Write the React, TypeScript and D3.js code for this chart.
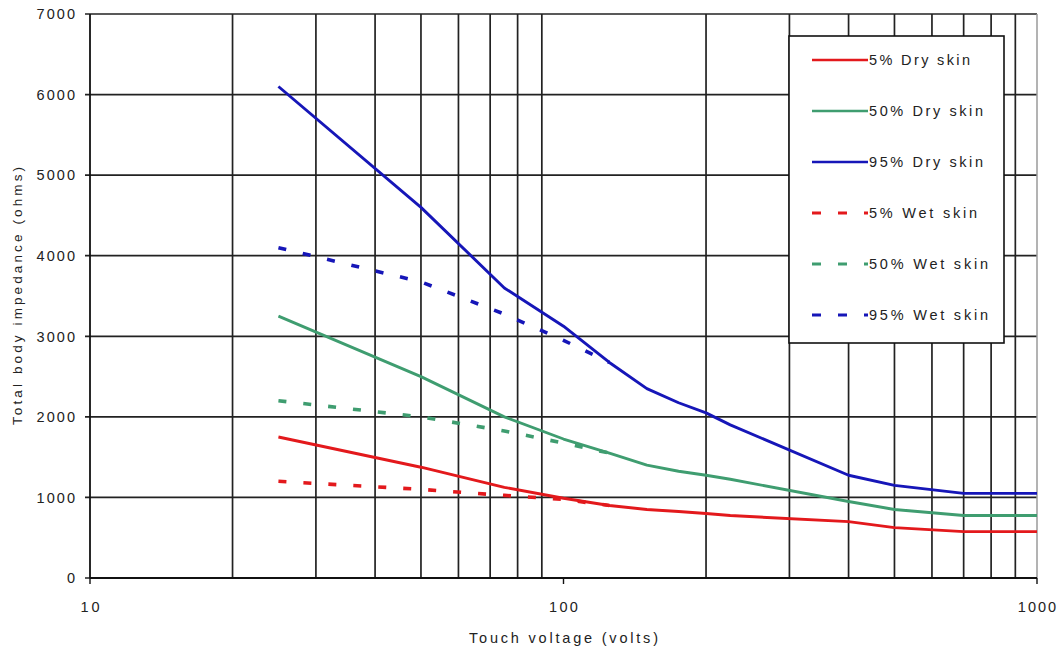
import React from "react";
import * as d3 from "d3";

// touch voltage (V) and total body impedance (ohms)
const voltages = [25, 50, 75, 100, 125, 150, 175, 200, 225, 400, 500, 700, 1000];
const dry5 = [1750, 1375, 1125, 990, 900, 850, 825, 800, 775, 700, 625, 575, 575];
const dry50 = [3250, 2500, 2000, 1725, 1550, 1400, 1325, 1275, 1225, 950, 850, 775, 775];
const dry95 = [6100, 4600, 3600, 3125, 2675, 2350, 2175, 2050, 1900, 1275, 1150, 1050, 1050];

const wetVoltages = [25, 50, 75, 100, 125];
const wet5 = [1200, 1100, 1025, 975, 900];
const wet50 = [2200, 2000, 1825, 1675, 1550];
const wet95 = [4100, 3675, 3275, 2950, 2675];

const seriesNames = [
  "5% Dry skin",
  "50% Dry skin",
  "95% Dry skin",
  "5% Wet skin",
  "50% Wet skin",
  "95% Wet skin",
];

const xTicks = [10, 100, 1000];
const yTicks = [0, 1000, 2000, 3000, 4000, 5000, 6000, 7000];

const RED = "#e3191c";
const GREEN = "#3f9d70";
const BLUE = "#1616b8";

const W = 1062;
const H = 653;
const margin = { top: 14, right: 25, bottom: 75, left: 90 };
const FONT = "'Liberation Sans', Arial, sans-serif";

export default function App() {
  const x = d3
    .scaleLog()
    .domain([10, 1000])
    .range([margin.left, W - margin.right]);
  const y = d3
    .scaleLinear()
    .domain([0, 7000])
    .range([H - margin.bottom, margin.top]);

  const series = [
    { name: seriesNames[0], xs: voltages, ys: dry5, color: RED, dashed: false },
    { name: seriesNames[1], xs: voltages, ys: dry50, color: GREEN, dashed: false },
    { name: seriesNames[2], xs: voltages, ys: dry95, color: BLUE, dashed: false },
    { name: seriesNames[3], xs: wetVoltages, ys: wet5, color: RED, dashed: true },
    { name: seriesNames[4], xs: wetVoltages, ys: wet50, color: GREEN, dashed: true },
    { name: seriesNames[5], xs: wetVoltages, ys: wet95, color: BLUE, dashed: true },
  ];

  const line = d3
    .line<[number, number]>()
    .x((d) => x(d[0]))
    .y((d) => y(d[1]));

  // vertical grid: 20..90, 200..900
  const minor: number[] = [];
  for (let d = 10; d < 1000; d *= 10) {
    for (let k = 2; k <= 9; k++) minor.push(d * k);
  }

  const [x0, x1] = x.range();
  const [y0, y1] = y.range();

  const legendX = 789;
  const legendY = 36;
  const rowY = (i: number) => 60 + i * 51;
  const legendLen: Record<string, number> = {
    "5% Dry skin": 101,
    "50% Dry skin": 114,
    "95% Dry skin": 114,
    "5% Wet skin": 108,
    "50% Wet skin": 119,
    "95% Wet skin": 119,
  };

  return (
    <svg
      width={W}
      height={H}
      style={{ position: "absolute", left: 0, top: 0, background: "#fff" }}
      fontFamily={FONT}
    >
      <rect width={W} height={H} fill="#fff" />

      {/* horizontal grid */}
      {yTicks.map((t) => (
        <line
          key={"h" + t}
          x1={x0 - 5}
          x2={x1}
          y1={y(t)}
          y2={y(t)}
          stroke="#222"
          strokeWidth={1.7}
        />
      ))}

      {/* vertical grid */}
      {minor.map((v) => (
        <line
          key={"v" + v}
          x1={x(v)}
          x2={x(v)}
          y1={y1}
          y2={y0}
          stroke="#222"
          strokeWidth={1.7}
        />
      ))}
      <line x1={x(1000)} x2={x(1000)} y1={y1} y2={y0} stroke="#9a9a9a" strokeWidth={1.5} />

      {/* axes */}
      <line x1={x0} x2={x0} y1={y1} y2={y0} stroke="#111" strokeWidth={1.8} />
      <line x1={x0} x2={x1} y1={y0} y2={y0} stroke="#111" strokeWidth={1.8} />
      {xTicks.map((t) => (
        <line key={"xt" + t} x1={x(t)} x2={x(t)} y1={y0} y2={y0 + 6} stroke="#111" strokeWidth={1.4} />
      ))}

      {/* tick labels */}
      {yTicks.map((t) => {
        const s = String(t);
        return (
          <text
            key={"yl" + t}
            x={75}
            y={y(t)}
            dy="0.36em"
            textAnchor="end"
            fontSize={14.5}
            fill="#222"
            textLength={s.length * 9.6}
            lengthAdjust="spacing"
          >
            {s}
          </text>
        );
      })}
      {xTicks.map((t) => {
        const s = String(t);
        return (
          <text
            key={"xl" + t}
            x={x(t)}
            y={607}
            dy="0.36em"
            textAnchor="middle"
            fontSize={14.5}
            fill="#222"
            textLength={s.length * 9.6}
            lengthAdjust="spacing"
          >
            {s}
          </text>
        );
      })}

      {/* axis titles */}
      <text
        x={(x0 + x1) / 2}
        y={638}
        dy="0.36em"
        textAnchor="middle"
        fontSize={14.5}
        fill="#222"
        textLength={189}
        lengthAdjust="spacing"
      >
        Touch voltage (volts)
      </text>
      <text
        transform={`translate(17,${(y0 + y1) / 2}) rotate(-90)`}
        dy="0.36em"
        textAnchor="middle"
        fontSize={13.5}
        fill="#222"
        textLength={258}
        lengthAdjust="spacing"
      >
        Total body impedance (ohms)
      </text>

      {/* series */}
      {series.map((s) => (
        <path
          key={s.name}
          d={line(s.xs.map((v, i) => [v, s.ys[i]] as [number, number])) || ""}
          fill="none"
          stroke={s.color}
          strokeWidth={s.dashed ? 3.6 : 2.9}
          strokeDasharray={s.dashed ? "8 17" : undefined}
          strokeLinejoin="round"
        />
      ))}

      {/* legend */}
      <rect
        x={legendX}
        y={legendY}
        width={215}
        height={307}
        fill="#fff"
        stroke="#111"
        strokeWidth={1.6}
      />
      {series.map((s, i) => (
        <g key={"lg" + s.name}>
          <line
            x1={812}
            x2={868}
            y1={rowY(i)}
            y2={rowY(i)}
            stroke={s.color}
            strokeWidth={s.dashed ? 3 : 2.6}
            strokeDasharray={s.dashed ? "9 17" : undefined}
          />
          <text
            x={869}
            y={rowY(i)}
            dy="0.36em"
            fontSize={14.5}
            fill="#222"
            textLength={legendLen[s.name]}
            lengthAdjust="spacing"
          >
            {s.name}
          </text>
        </g>
      ))}
    </svg>
  );
}
